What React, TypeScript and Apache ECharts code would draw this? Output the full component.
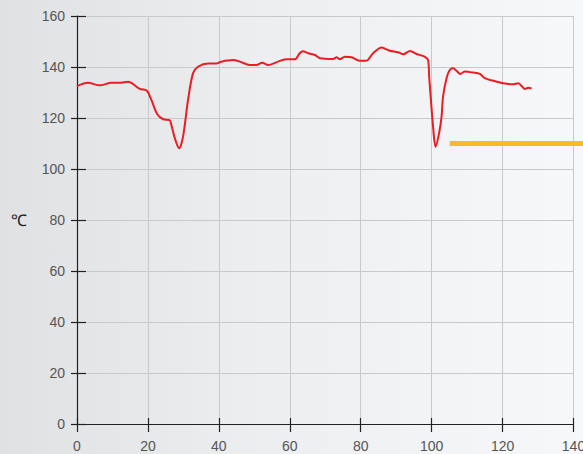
import React, { useEffect, useRef } from "react";
import * as echarts from "echarts";

const xTicks = [0, 20, 40, 60, 80, 100, 120, 140];
const yTicks = [0, 20, 40, 60, 80, 100, 120, 140, 160];

const tempX = [
  0, 3.1, 6.4, 9.7, 12, 14.4, 17.7, 19.7, 21, 22.6, 24.3, 26.1, 26.6, 27.6, 28.8, 29.9,
  31.3, 32.7, 34.1, 37, 39.3, 40.7, 44, 45.9, 48.7, 50.6, 52.2, 53.9, 57.2, 59.1, 61.4,
  62.8, 63.7, 65.2, 67.1, 68.5, 72.2, 73.2, 74.1, 75.5, 77.4, 79.7, 81.6, 83.5, 85.9,
  88.2, 90.5, 92, 93.9, 95.7, 96.7, 98.1, 99, 99.3, 99.8, 100.4, 101.1, 102.1, 102.8,
  103.2, 104.2, 105.1, 106.1, 107, 108.1, 109.4, 111.7, 113.6, 115, 117.4, 120.2, 123,
  124.4, 125.4, 126.3, 127.2, 128.2,
];
const tempY = [
  132.5, 133.8, 132.8, 133.8, 133.8, 134.2, 131.4, 130.7, 127, 121.6, 119.5, 119.2, 117.3,
  112, 108.1, 112.7, 127, 137.5, 140.1, 141.4, 141.4, 142.1, 142.7, 142.1, 140.8, 140.8,
  141.7, 140.8, 142.4, 143, 143, 145.4, 146.2, 145.4, 144.7, 143.4, 143.1, 143.8, 143,
  144, 143.8, 142.5, 142.5, 145.4, 147.6, 146.4, 145.8, 145, 146.3, 145.1, 144.7, 144,
  142.7, 136.2, 127, 116.6, 108.7, 114, 120.5, 128.3, 135.6, 138.8, 139.5, 138.5, 137.3,
  138.2, 137.8, 137.3, 135.6, 134.6, 133.6, 133.2, 133.6, 132.5, 131.4, 131.9, 131.6,
];
const limitX = [105.1, 142.7];
const limitY = [110, 110];

export default function App() {
  const ref = useRef<HTMLDivElement>(null);
  useEffect(() => {
    if (!ref.current) return;
    const chart = echarts.init(ref.current, undefined, { renderer: "svg" });
    const labelStyle = {
      color: "#555",
      fontSize: 14,
      fontFamily: "Liberation Sans, Arial, sans-serif",
    };
    const xMin = xTicks[0];
    const xMax = xTicks[xTicks.length - 1];
    const yMin = yTicks[0];
    const yMax = yTicks[yTicks.length - 1];
    const W = 583;
    const gLeft = 77;
    const gRight = 9.5;
    // the wide grid reaches the right edge; its axis keeps the same units per pixel
    const wideMax = xMin + ((xMax - xMin) * (W - gLeft)) / (W - gLeft - gRight);
    chart.setOption({
      animation: false,
      backgroundColor: "transparent",
      grid: [
        { left: gLeft, right: gRight, top: 16, bottom: 30, containLabel: false, outerBoundsMode: "none" },
        { left: gLeft, right: 0, top: 16, bottom: 30, containLabel: false, outerBoundsMode: "none" },
      ],
      xAxis: [
        {
          type: "value",
          gridIndex: 0,
          min: xMin,
          max: xMax,
          interval: 20,
          position: "bottom",
          axisLine: { onZero: false, lineStyle: { color: "#222", width: 1.2 } },
          axisTick: { show: true, length: 8, lineStyle: { color: "#222", width: 1.2 } },
          axisLabel: { ...labelStyle, margin: 15, hideOverlap: false },
          splitLine: { show: true, lineStyle: { color: "#c9c9c9", width: 1 } },
        },
        {
          type: "value",
          gridIndex: 0,
          min: xMin,
          max: xMax,
          interval: 20,
          position: "bottom",
          axisLine: { show: false, onZero: false },
          axisTick: { show: true, inside: true, length: 6, lineStyle: { color: "#222", width: 1.2 } },
          axisLabel: { show: false },
          splitLine: { show: false },
        },
        {
          type: "value",
          gridIndex: 1,
          min: xMin,
          max: wideMax,
          show: false,
        },
      ],
      yAxis: [
        {
          type: "value",
          gridIndex: 0,
          min: yMin,
          max: yMax,
          interval: 20,
          position: "left",
          name: "℃",
          nameLocation: "middle",
          nameRotate: 0,
          nameGap: 50,
          nameTextStyle: { color: "#222", fontSize: 16, fontFamily: "Liberation Sans, Arial, sans-serif" },
          axisLine: { show: true, onZero: false, lineStyle: { color: "#222", width: 1.2 } },
          axisTick: { show: true, length: 6, lineStyle: { color: "#222", width: 1.2 } },
          axisLabel: { ...labelStyle, margin: 12 },
          splitLine: { show: true, lineStyle: { color: "#c9c9c9", width: 1 } },
        },
        {
          type: "value",
          gridIndex: 0,
          min: yMin,
          max: yMax,
          interval: 20,
          position: "left",
          axisLine: { show: false, onZero: false },
          axisTick: { show: true, inside: true, length: 9, lineStyle: { color: "#222", width: 1.2 } },
          axisLabel: { show: false },
          splitLine: { show: false },
        },
        {
          type: "value",
          gridIndex: 1,
          min: yMin,
          max: yMax,
          show: false,
        },
      ],
      series: [
        {
          type: "line",
          xAxisIndex: 0,
          yAxisIndex: 0,
          data: tempX.map((x, i) => [x, tempY[i]]),
          showSymbol: false,
          smooth: 0.3,
          lineStyle: { color: "#ec1c24", width: 2 },
          z: 3,
        },
        {
          type: "line",
          xAxisIndex: 2,
          yAxisIndex: 2,
          data: limitX.map((x, i) => [x, limitY[i]]),
          showSymbol: false,
          clip: false,
          lineStyle: { color: "#fbb829", width: 5, cap: "butt" },
          z: 2,
        },
      ],
    });
    return () => chart.dispose();
  }, []);
  return (
    <div
      style={{
        position: "fixed",
        left: 0,
        top: 0,
        width: 583,
        height: 454,
        background: "linear-gradient(to right, #dfe1e3 0%, #eceef0 45%, #f7f8fa 100%)",
      }}
    >
      <div ref={ref} style={{ width: 583, height: 454 }} />
    </div>
  );
}
